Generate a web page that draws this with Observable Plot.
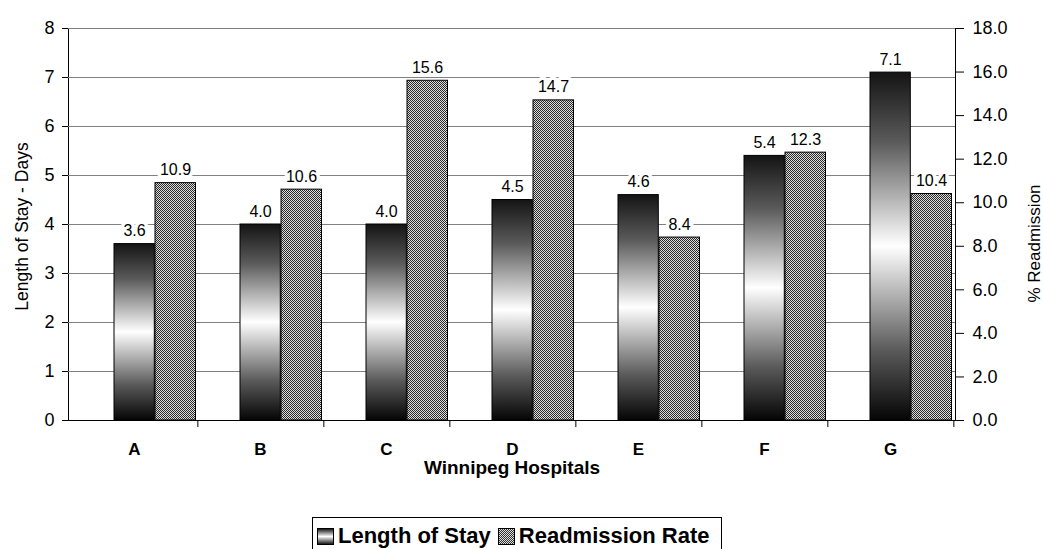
<!DOCTYPE html>
<html>
<head>
<meta charset="utf-8">
<script src="https://cdn.jsdelivr.net/npm/d3@7"></script>
<script src="https://cdn.jsdelivr.net/npm/@observablehq/plot@0.6"></script>
<style>
  body { margin: 0; background: #fff; font-family: "Liberation Sans", Arial, sans-serif; }
  #wrap { position: relative; width: 1043px; height: 549px; overflow: hidden; }
  #legend {
    position: absolute; left: 312px; top: 517px; width: 410px; height: 40px;
    border: 1px solid #000; box-sizing: border-box;
    font-weight: bold; font-size: 22px; display: flex; align-items: flex-start;
    padding: 5px 0 0 4px; white-space: nowrap; line-height: 26px;
  }
  .sw { display: inline-block; width: 15px; height: 15px; border: 1px solid #000; margin: 5px 4px 0 0; flex: none; }
  .sw.los { background: linear-gradient(to bottom, #1a1a1a, #ffffff 50%, #1a1a1a); }
  .sw.rr { background-color: #ddd; background-image: repeating-conic-gradient(#333 0 25%, #ddd 0 50%); background-size: 2px 2px; }
  .item { display: flex; align-items: flex-start; margin-right: 7px; }
</style>
</head>
<body>
<div id="wrap">
  <div id="chart"></div>
  <div id="legend">
    <span class="item"><span class="sw los"></span>Length of Stay</span>
    <span class="item"><span class="sw rr"></span>Readmission Rate</span>
  </div>
</div>
<script>
const hospitals = ["A", "B", "C", "D", "E", "F", "G"];
const lengthOfStay = [3.6, 4.0, 4.0, 4.5, 4.6, 5.4, 7.1];
const readmissionRate = [10.9, 10.6, 15.6, 14.7, 8.4, 12.3, 10.4];
const leftTicks = [0, 1, 2, 3, 4, 5, 6, 7, 8];
const rightTicks = [0, 2, 4, 6, 8, 10, 12, 14, 16, 18];
const gridValues = [1, 2, 3, 4, 5, 6, 7, 8];

const leftMax = 8, rightMax = 18;
const k = leftMax / rightMax; // maps readmission onto the left scale

const W = 1043, H = 510, mL = 68, mR = 88, mT = 28, mB = H - 420;
const bw = (W - mL - mR) / hospitals.length;

const los = hospitals.map((h, i) => ({h, v: lengthOfStay[i]}));
const rr = hospitals.map((h, i) => ({h, v: readmissionRate[i], y: readmissionRate[i] * k}));

const font = "Liberation Sans, Arial, sans-serif";

const chart = Plot.plot({
  width: W, height: H,
  marginLeft: mL, marginRight: mR, marginTop: mT, marginBottom: mB,
  style: {fontFamily: font, fontSize: "17px", color: "#000", background: "#fff"},
  x: {type: "band", domain: hospitals, padding: 0, axis: null},
  y: {domain: [0, leftMax], axis: null},
  marks: [
    Plot.frame({stroke: "#000", strokeWidth: 1}),
    Plot.ruleY(gridValues, {stroke: "#808080", strokeWidth: 1.2}),
    Plot.barY(los, {x: "h", y: "v", fill: "url(#losGrad)", stroke: "#000", strokeWidth: 1, insetLeft: 43, insetRight: bw - 84}),
    Plot.barY(rr, {x: "h", y: "y", fill: "url(#checker)", stroke: "#000", strokeWidth: 1, insetLeft: 84, insetRight: 1.5}),
    Plot.text(los, {x: "h", y: "v", text: d => d.v.toFixed(1), lineAnchor: "bottom", dy: -8, fontSize: 16, fill: "#000", stroke: "#fff", strokeWidth: 7, paintOrder: "stroke"}),
    Plot.text(rr, {x: "h", y: "y", text: d => d.v.toFixed(1), lineAnchor: "bottom", dy: -8, dx: 41, fontSize: 16, fill: "#000", stroke: "#fff", strokeWidth: 7, paintOrder: "stroke"}),
    Plot.axisY({anchor: "left", ticks: leftTicks, tickFormat: d => String(d), tickSize: 6, tickPadding: 8, fontSize: 18, label: null}),
    Plot.axisY({anchor: "right", ticks: rightTicks.map(v => v * k), tickFormat: d => (d / k).toFixed(1), tickSize: 8, tickPadding: 9, fontSize: 18, label: null}),
    Plot.axisX({ticks: hospitals, tickSize: 0, tickPadding: 22, fontSize: 17, fontWeight: "bold", label: null}),
    Plot.axisX({ticks: hospitals, tickSize: 7, tickFormat: () => "", dx: bw / 2, label: null}),
    Plot.text(["Length of Stay - Days"], {frameAnchor: "left", textAnchor: "middle", lineAnchor: "middle", dx: -46, dy: 2, rotate: -90, fontSize: 17.5, fill: "#000"}),
    Plot.text(["% Readmission"], {frameAnchor: "right", textAnchor: "middle", lineAnchor: "middle", dx: 79, dy: 19, rotate: -90, fontSize: 17, fill: "#000"}),
    Plot.text(["Winnipeg Hospitals"], {frameAnchor: "bottom", lineAnchor: "middle", dy: 47, fontSize: 19, fontWeight: "bold", fill: "#000"})
  ]
});

const defs = d3.select(chart).insert("defs", ":first-child");
const g = defs.append("linearGradient").attr("id", "losGrad")
  .attr("x1", 0).attr("y1", 0).attr("x2", 0).attr("y2", 1);
[[0, "#141414"], [0.2, "#5a5a5a"], [0.5, "#ffffff"], [0.8, "#5a5a5a"], [1, "#050505"]]
  .forEach(([o, c]) => g.append("stop").attr("offset", o).attr("stop-color", c));
const p = defs.append("pattern").attr("id", "checker").attr("patternUnits", "userSpaceOnUse")
  .attr("width", 2).attr("height", 2);
p.append("rect").attr("width", 2).attr("height", 2).attr("fill", "#dcdcdc");
p.append("rect").attr("width", 1).attr("height", 1).attr("fill", "#2a2a2a");
p.append("rect").attr("x", 1).attr("y", 1).attr("width", 1).attr("height", 1).attr("fill", "#2a2a2a");

document.getElementById("chart").appendChild(chart);
</script>
</body>
</html>
